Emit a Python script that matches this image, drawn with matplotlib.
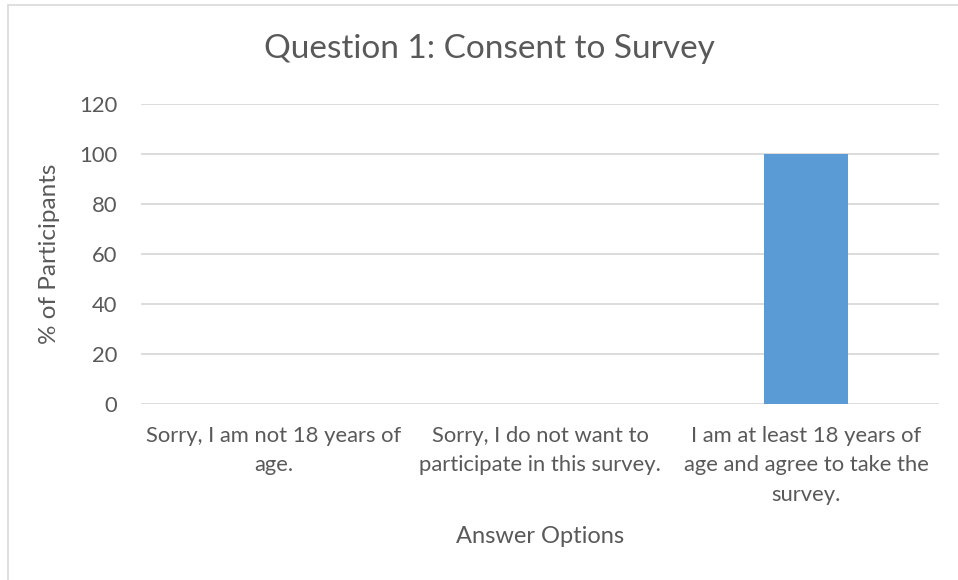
import matplotlib.pyplot as plt
from matplotlib.patches import Rectangle

# chart data
categories = ["Sorry, I am not 18 years of\nage.",
              "Sorry, I do not want to\nparticipate in this survey.",
              "I am at least 18 years of\nage and agree to take the\nsurvey."]
percent = [0, 0, 100]
y_ticks = [0, 20, 40, 60, 80, 100, 120]

text_color = "#595959"
grid_color = "#D9D9D9"
bar_color = "#5B9BD5"

plt.rcParams["font.family"] = ["Lato", "DejaVu Sans"]

fig = plt.figure(figsize=(9.58, 5.8), dpi=100)
ax = fig.add_axes([141 / 958, 1 - 404 / 580, 798 / 958, 300 / 580])

ax.bar(range(len(categories)), percent, width=0.315, color=bar_color, zorder=3)
ax.set_xlim(-0.5, len(categories) - 0.5)
ax.set_ylim(0, 120)
ax.set_yticks(y_ticks)
ax.set_xticks(range(len(categories)))
ax.set_xticklabels(categories, linespacing=1.62)

ax.grid(axis="y", color=grid_color, linewidth=1.3, zorder=0)
for s in ax.spines.values():
    s.set_visible(False)
ax.tick_params(axis="both", length=0, labelsize=15.8, labelcolor=text_color)
ax.tick_params(axis="y", pad=17)
ax.tick_params(axis="x", pad=15.5)

ax.set_ylabel("% of Participants", fontsize=17.5, color=text_color)
ax.yaxis.set_label_coords(-0.1015, 0.5)
ax.set_xlabel("Answer Options", fontsize=17, color=text_color)
ax.xaxis.label.set_va("baseline")
ax.xaxis.set_label_coords(0.5, (404 - 543) / 300)

fig.text(489 / 958, 1 - 58 / 580, "Question 1: Consent to Survey",
         fontsize=24, color=text_color, ha="center", va="baseline")

# light chart-area border (left and top visible)
fig.patches.append(Rectangle((8 / 958, -0.1), 1.5, 1.1 - 5 / 580, transform=fig.transFigure,
                             fill=False, edgecolor=grid_color, linewidth=1.2))

fig.savefig("out.png", dpi=100)
